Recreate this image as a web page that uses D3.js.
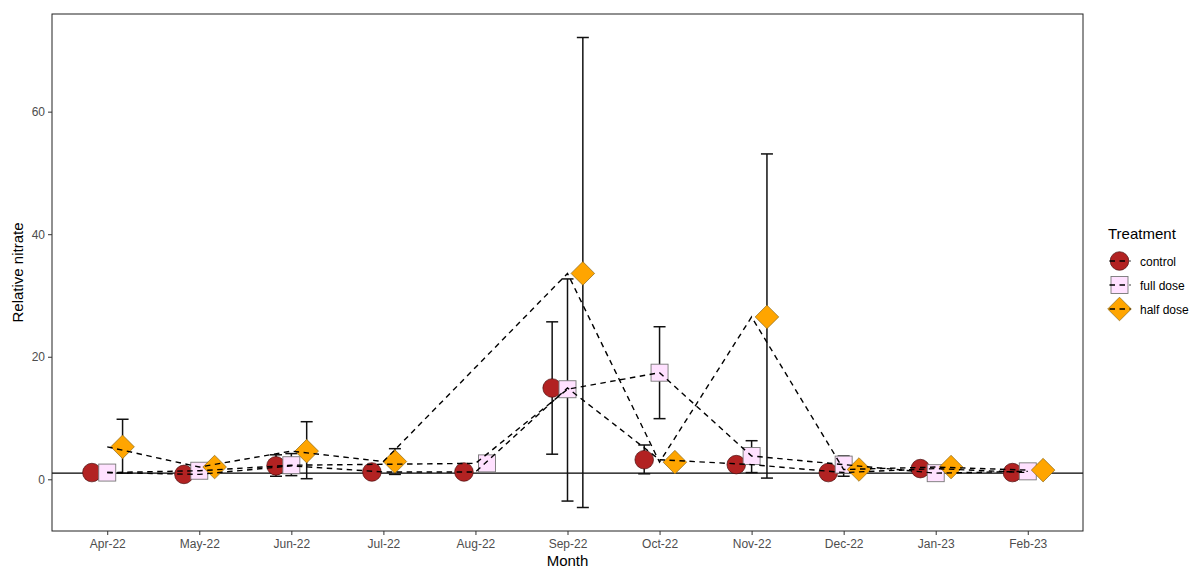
<!DOCTYPE html>
<html>
<head>
<meta charset="utf-8">
<script src="https://cdnjs.cloudflare.com/ajax/libs/d3/7.8.5/d3.min.js"></script>
<style>
  html, body { margin: 0; padding: 0; background: #fff; }
  svg { display: block; font-family: "Liberation Sans", Arial, sans-serif; }
</style>
</head>
<body>
<svg id="chart" width="1193" height="570"></svg>
<script>
// ---------- data ----------
const months = ["Apr-22","May-22","Jun-22","Jul-22","Aug-22","Sep-22","Oct-22","Nov-22","Dec-22","Jan-23","Feb-23"];
const groups = ["control","full dose","half dose"];

const controlMean = [1.1, 0.8, 2.2, 1.2, 1.2, 14.9, 3.2, 2.4, 1.1, 1.75, 1.1];
const controlLow  = [1.0, 0.7, 0.5, 1.1, 1.1, 4.1, 0.9, 2.0, 0.9, 1.5, 1.0];
const controlHigh = [1.2, 0.9, 4.0, 1.3, 1.3, 25.7, 5.6, 2.8, 1.3, 2.0, 1.2];

const fullMean = [1.1, 1.4, 2.3, null, 2.6, 14.7, 17.4, 3.8, 2.4, 1.0, 1.3];
const fullLow  = [1.0, 1.2, 0.6, null, 2.4, -3.55, 9.9, 1.1, 0.5, 0.8, 1.1];
const fullHigh = [1.2, 1.6, 4.2, null, 2.8, 32.7, 24.9, 6.3, 3.8, 1.2, 1.5];

const halfMean = [5.3, 2.0, 4.6, 2.9, null, 33.6, 2.8, 26.5, 1.6, 2.0, 1.5];
const halfLow  = [1.0, 1.8, 0.1, 0.8, null, -4.6, 2.5, 0.2, 1.4, 1.8, 1.3];
const halfHigh = [9.8, 2.2, 9.4, 5.0, null, 72.1, 3.1, 53.1, 1.8, 2.2, 1.7];

const yTicks = [0, 20, 40, 60];
const refLine = 1;

const fills = {"control": "#B22222", "full dose": "#FFE1FF", "half dose": "#FFA500"};
const strokes = {"control": "#4a1010", "full dose": "#777777", "half dose": "#8a6a20"};

// ---------- build records ----------
const series = [
  {group: "control",   mean: controlMean, low: controlLow, high: controlHigh},
  {group: "full dose", mean: fullMean,    low: fullLow,    high: fullHigh},
  {group: "half dose", mean: halfMean,    low: halfLow,    high: halfHigh}
];
const records = [];
series.forEach(s => {
  months.forEach((m, i) => {
    if (s.mean[i] !== null) records.push({group: s.group, month: m, i, mean: s.mean[i], low: s.low[i], high: s.high[i]});
  });
});
// dodge offsets (position_dodge width 0.5)
const dodgeW = 0.5;
months.forEach(m => {
  const recs = records.filter(r => r.month === m).sort((a, b) => groups.indexOf(a.group) - groups.indexOf(b.group));
  const n = recs.length;
  recs.forEach((r, k) => { r.off = dodgeW * ((k + 0.5) / n - 0.5); });
});

// ---------- layout ----------
const svg = d3.select("#chart");
const L = 52, R = 1083, T = 14, B = 531;

const x = d3.scalePoint().domain(months).range([L, R]).padding(0.6);
const step = x.step();
const allVals = records.flatMap(r => [r.low, r.high]);
const yMin = d3.min(allVals), yMax = d3.max(allVals);
const pad = (yMax - yMin) * 0.05;
const y = d3.scaleLinear().domain([yMin - pad, yMax + pad]).range([B, T]);

const px = r => x(r.month) + r.off * step;

// reference line
svg.append("line")
  .attr("x1", L).attr("x2", R).attr("y1", y(refLine)).attr("y2", y(refLine))
  .attr("stroke", "#000").attr("stroke-width", 1.3);

// error bars
const capW = 6;
const eb = svg.append("g").attr("stroke", "#111").attr("stroke-width", 1.5).attr("fill", "none");
records.forEach(r => {
  const cx = px(r);
  eb.append("line").attr("x1", cx).attr("x2", cx).attr("y1", y(r.low)).attr("y2", y(r.high));
  eb.append("line").attr("x1", cx - capW).attr("x2", cx + capW).attr("y1", y(r.low)).attr("y2", y(r.low));
  eb.append("line").attr("x1", cx - capW).attr("x2", cx + capW).attr("y1", y(r.high)).attr("y2", y(r.high));
});

// points
function drawShape(g, group, cx, cy) {
  if (group === "control") {
    g.append("circle").attr("cx", cx).attr("cy", cy).attr("r", 9.3)
      .attr("fill", fills[group]).attr("stroke", strokes[group]).attr("stroke-width", 0.7);
  } else if (group === "full dose") {
    g.append("rect").attr("x", cx - 8.5).attr("y", cy - 8.5).attr("width", 17).attr("height", 17)
      .attr("fill", fills[group]).attr("stroke", strokes[group]).attr("stroke-width", 0.9);
  } else {
    const h = 11.8;
    g.append("path").attr("d", `M${cx},${cy - h}L${cx + h},${cy}L${cx},${cy + h}L${cx - h},${cy}Z`)
      .attr("fill", fills[group]).attr("stroke", strokes[group]).attr("stroke-width", 0.7);
  }
}
const pts = svg.append("g");
records.forEach(r => drawShape(pts, r.group, px(r), y(r.mean)));

// dashed lines (undodged)
const lineGen = d3.line().x(d => x(d.month)).y(d => y(d.mean));
groups.forEach(gname => {
  const recs = records.filter(r => r.group === gname).sort((a, b) => a.i - b.i);
  svg.append("path").attr("d", lineGen(recs))
    .attr("fill", "none").attr("stroke", "#000").attr("stroke-width", 1.4)
    .attr("stroke-dasharray", "5.5,4.5");
});

// panel border
svg.append("rect").attr("x", L).attr("y", T).attr("width", R - L).attr("height", B - T)
  .attr("fill", "none").attr("stroke", "#222").attr("stroke-width", 1);

// axes
const xAxis = svg.append("g").attr("transform", `translate(0,${B})`)
  .call(d3.axisBottom(x).tickSizeInner(4).tickSizeOuter(0).tickPadding(4));
xAxis.select(".domain").remove();
xAxis.selectAll("line").attr("stroke", "#333");
xAxis.selectAll("text").attr("fill", "#4D4D4D").style("font-size", "12px").style("font-family", "'Liberation Sans', Arial, sans-serif");

const yAxis = svg.append("g").attr("transform", `translate(${L},0)`)
  .call(d3.axisLeft(y).tickValues(yTicks).tickSizeInner(4).tickSizeOuter(0).tickPadding(3));
yAxis.select(".domain").remove();
yAxis.selectAll("line").attr("stroke", "#333");
yAxis.selectAll("text").attr("fill", "#4D4D4D").style("font-size", "12px").style("font-family", "'Liberation Sans', Arial, sans-serif");

// titles
svg.append("text").attr("x", (L + R) / 2).attr("y", 566).attr("text-anchor", "middle")
  .style("font-size", "15px").attr("fill", "#000").text("Month");
svg.append("text").attr("transform", `translate(23,${(T + B) / 2}) rotate(-90)`).attr("text-anchor", "middle")
  .style("font-size", "15px").attr("fill", "#000").text("Relative nitrate");

// legend
const lg = svg.append("g");
lg.append("text").attr("x", 1108).attr("y", 239).style("font-size", "15px").attr("fill", "#000").text("Treatment");
const keyY = [261, 285, 309];
groups.forEach((gname, k) => {
  const cx = 1119.5, cy = keyY[k];
  drawShape(lg, gname, cx, cy);
  lg.append("line").attr("x1", cx - 11).attr("x2", cx + 11).attr("y1", cy).attr("y2", cy)
    .attr("stroke", "#000").attr("stroke-width", 1.4).attr("stroke-dasharray", "5.5,4.5").attr("stroke-dashoffset", -1);
  lg.append("text").attr("x", 1140).attr("y", cy + 4.5).style("font-size", "12px").attr("fill", "#000").text(gname);
});
</script>
</body>
</html>
